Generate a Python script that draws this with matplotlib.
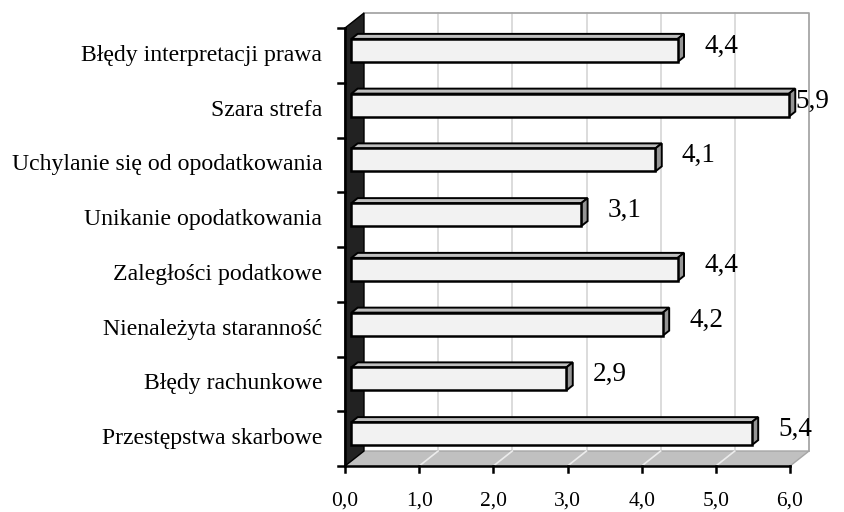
import matplotlib
matplotlib.use("Agg")
import matplotlib.pyplot as plt
from matplotlib.patches import Polygon

# dane (od dolu do gory)
kategorie = ['Przestępstwa skarbowe', 'Błędy rachunkowe', 'Nienależyta staranność',
             'Zaległości podatkowe', 'Unikanie opodatkowania',
             'Uchylanie się od opodatkowania', 'Szara strefa',
             'Błędy interpretacji prawa']
wartosci = [5.4, 2.9, 4.2, 4.4, 3.1, 4.1, 5.9, 4.4]
etykiety_x = ['0,0', '1,0', '2,0', '3,0', '4,0', '5,0', '6,0']
xmax = 6

# skala pikseli (wykres "3D" jak z Excela)
PX = 74.17
PY = 54.75
DX = 19 / PX
DY = 15 / PY
H = 0.21
FONT = 'Liberation Serif'

fig = plt.figure(figsize=(8.44, 5.12), dpi=100)
ax = fig.add_axes([0, 0, 1, 1])
ax.set_xlim(-345 / PX, (844 - 345) / PX)
ax.set_ylim(-46 / PY, (512 - 46) / PY)
ax.axis('off')

n = len(kategorie)

# tylna sciana
ax.add_patch(Polygon([(DX, DY), (xmax + DX, DY), (xmax + DX, n + DY), (DX, n + DY)],
                     closed=True, facecolor='white', edgecolor='none', zorder=1))
for k in range(1, xmax):
    ax.plot([k + DX, k + DX], [DY, n + DY], color='#d9d9d9', lw=1.3, zorder=2)
ax.plot([DX, xmax + DX, xmax + DX], [n + DY, n + DY, DY], color='#a6a6a6', lw=1.3, zorder=2)

# podloga
ax.add_patch(Polygon([(0, 0), (xmax, 0), (xmax + DX, DY), (DX, DY)],
                     closed=True, facecolor='#c0c0c0', edgecolor='#a6a6a6', lw=1, zorder=3))
for k in range(1, xmax):
    ax.plot([k, k + DX], [0, DY], color='#ececec', lw=1.2, zorder=4)

# lewa sciana
ax.add_patch(Polygon([(0, 0), (0, n), (DX, n + DY), (DX, DY)],
                     closed=True, facecolor='#222222', edgecolor='black', lw=1, zorder=5))

# osie
ax.plot([0, 0], [0, n], color='black', lw=1.8, zorder=6)
ax.plot([0, xmax], [0, 0], color='black', lw=1.8, zorder=6)
for i in range(n + 1):
    ax.plot([-7 / PX, 0], [i, i], color='black', lw=1.8, zorder=6)
for k in range(xmax + 1):
    ax.plot([k, k], [0, -6 / PY], color='black', lw=1.8, zorder=6)
    ax.text(k, -35 / PY, etykiety_x[k], ha='center', va='center',
            fontsize=15.5, family=FONT)

# slupki
for i, (nazwa, v) in enumerate(zip(kategorie, wartosci)):
    yc = i + 0.5
    x0 = DX / 3
    y0 = yc - H + DY / 3
    y1 = yc + H + DY / 3
    # gorna sciana
    ax.add_patch(Polygon([(x0, y1), (x0 + v, y1), (x0 + v + DX / 3, y1 + DY / 3),
                          (x0 + DX / 3, y1 + DY / 3)],
                         closed=True, facecolor='#bfbfbf', edgecolor='black', lw=1.4, zorder=7))
    # bok
    ax.add_patch(Polygon([(x0 + v, y0), (x0 + v + DX / 3, y0 + DY / 3),
                          (x0 + v + DX / 3, y1 + DY / 3), (x0 + v, y1)],
                         closed=True, facecolor='#959595', edgecolor='black', lw=1.4, zorder=7))
    # przod
    ax.add_patch(Polygon([(x0, y0), (x0 + v, y0), (x0 + v, y1), (x0, y1)],
                         closed=True, facecolor='#f2f2f2', edgecolor='black', lw=1.8, zorder=8))
    # etykieta wartosci
    xl = min(v + 2 * DX / 3 + 20 / PX, (795 - 345) / PX)
    ax.text(xl, yc + 2 * DY / 3 - 1 / PY, str(v).replace('.', ','), ha='left', va='center',
            fontsize=19.5, family=FONT, zorder=9)
    ax.text(-23 / PX, yc, nazwa, ha='right', va='center', fontsize=17.1, family=FONT)

fig.savefig('out.png', dpi=100)
